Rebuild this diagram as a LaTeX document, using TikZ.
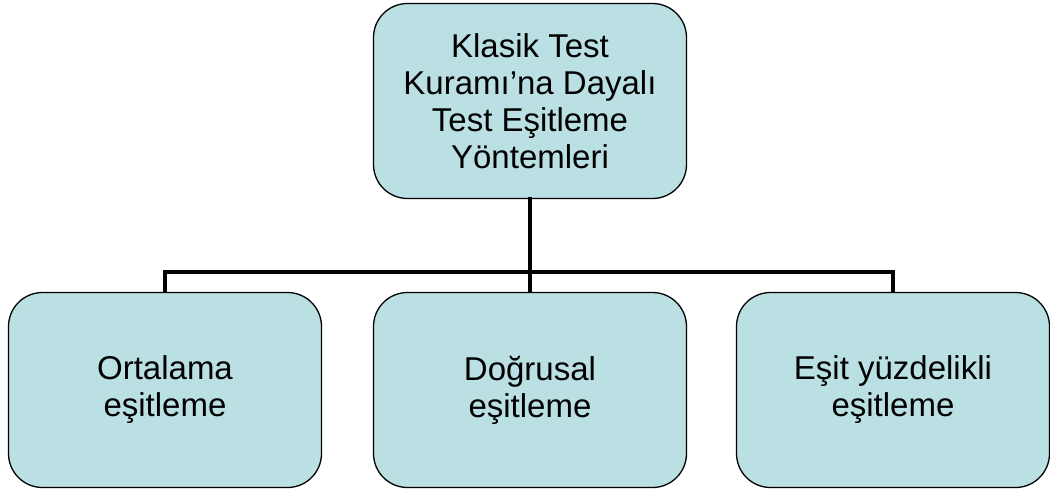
\documentclass[tikz,border=0pt]{standalone}
\usepackage{fontspec}
\setmainfont{Liberation Sans}
\begin{document}
\begin{tikzpicture}[x=1pt,y=-1pt,
  box/.style={draw=black, line width=1.3pt, fill=boxfill, rounded corners=34pt,
    minimum width=313pt, minimum height=195pt, align=center,
    font=\fontsize{33}{37}\selectfont, inner sep=0pt},
  link/.style={line width=4.5pt, line cap=rect}]
\definecolor{boxfill}{RGB}{186,224,227}
\useasboundingbox (0,0) rectangle (1050,490);
% root node and its three methods
\node[box] (root) at (530,101) {Klasik Test\\Kuramı’na Dayalı\\Test Eşitleme\\Yöntemleri};
\node[box] (ort) at (165,390) {Ortalama\\eşitleme};
\node[box] (dog) at (530,390) {Doğrusal\\eşitleme};
\node[box] (esit) at (893,390) {Eşit yüzdelikli\\eşitleme};
% tree connectors
\coordinate (bus) at (530,272);
\draw[link] (root.south) -- (bus);
\draw[link, line cap=butt] (ort.north) |- (bus) -| (esit.north);
\draw[link, line cap=butt] (bus) -- (dog.north);
\end{tikzpicture}
\end{document}
